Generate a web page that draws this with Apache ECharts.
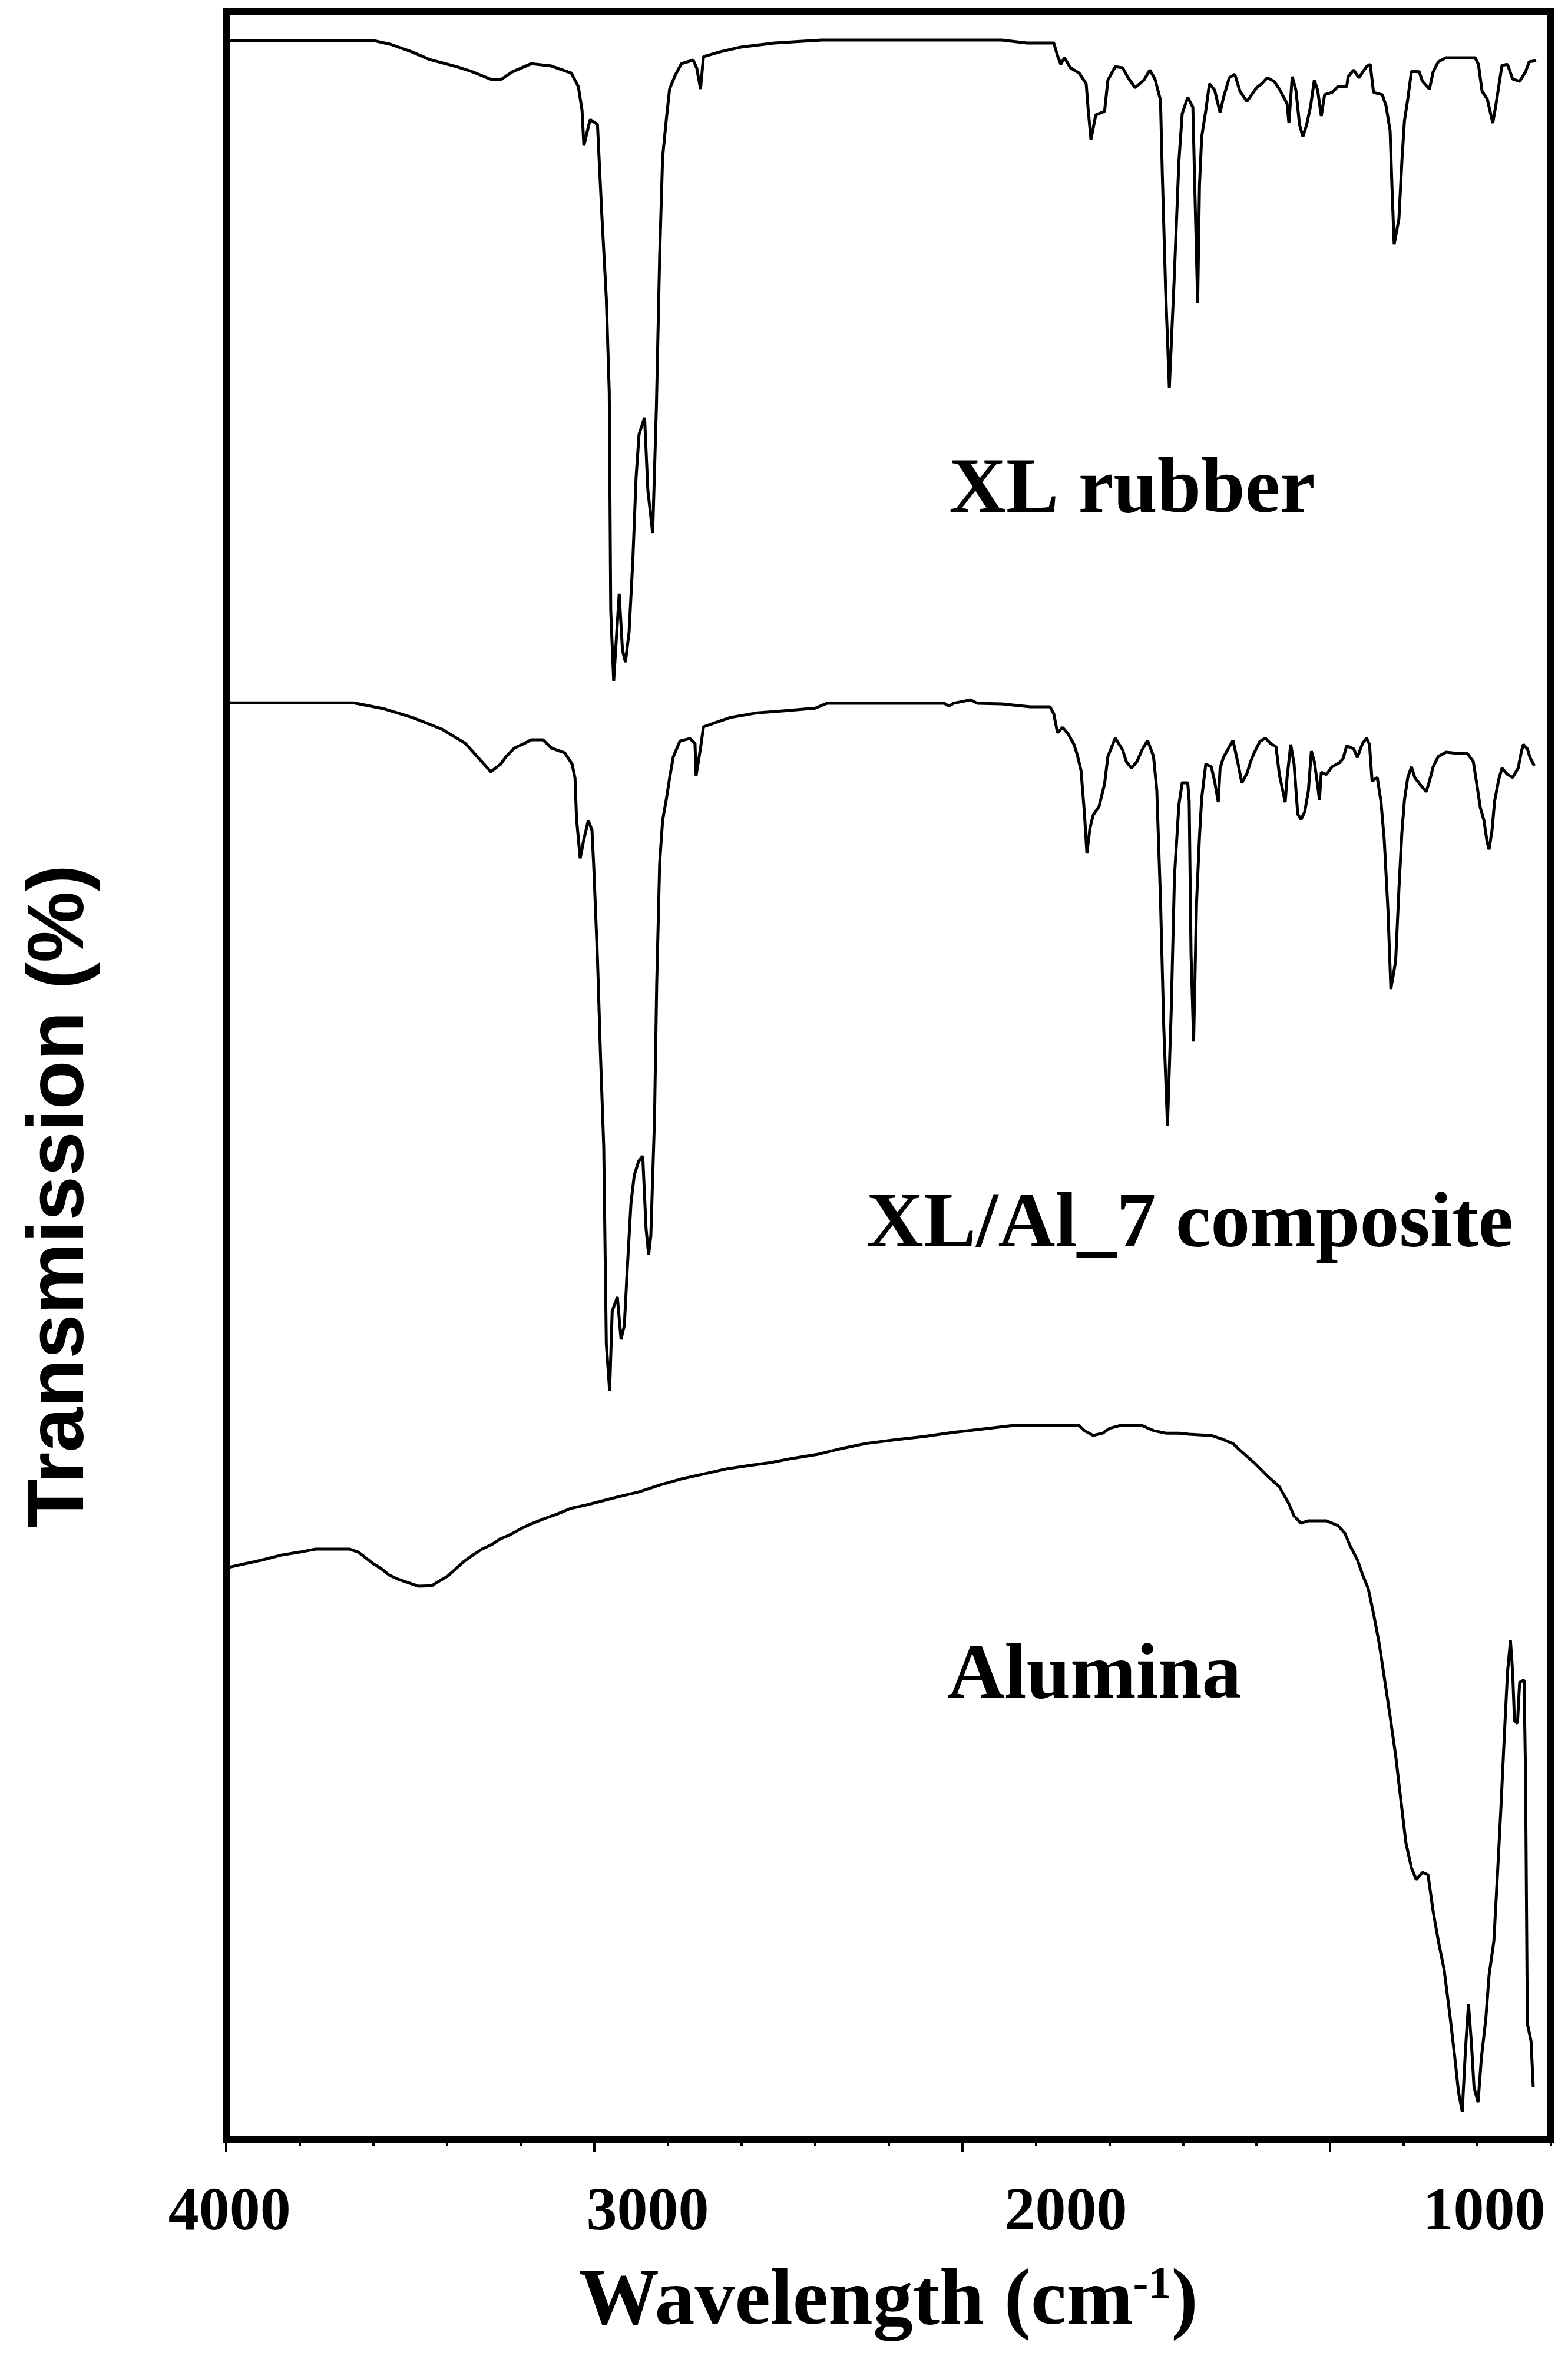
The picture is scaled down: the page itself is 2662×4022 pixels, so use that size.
<!DOCTYPE html>
<html>
<head>
<meta charset="utf-8">
<script src="https://cdn.jsdelivr.net/npm/echarts@6/dist/echarts.min.js"></script>
<style>
html,body{margin:0;padding:0;background:#fff;}
#chart{width:2662px;height:4022px;}
</style>
</head>
<body>
<div id="chart"></div>
<script>
// x: wavenumber (cm-1), y: transmission (arbitrary, offset traces)
const xlRubber = [
[4000,98.64],[3598,98.64],[3553,98.47],[3496,98.12],[3448,97.76],[3374,97.42],[3334,97.2],[3278,96.81],[3254,96.81],[3222,97.18],
[3171,97.56],[3116,97.45],[3062,97.12],[3043,96.48],[3033,95.37],[3028,93.71],[3011,94.93],[2991,94.71],[2988,93.6],[2979,90.39],
[2967,86.54],[2959,82.11],[2955,71.87],[2947,68.55],[2932,72.65],[2923,69.99],[2915,69.43],[2905,70.87],[2895,74.2],[2886,78.15],
[2878,80.15],[2863,80.92],[2854,77.49],[2841,75.5],[2831,81.37],[2822,88.54],[2814,93.16],[2804,94.93],[2795,96.37],[2780,97.01],
[2763,97.56],[2731,97.73],[2721,97.34],[2711,96.37],[2703,97.89],[2657,98.12],[2602,98.34],[2510,98.53],[2382,98.67],[1893,98.67],
[1824,98.53],[1751,98.53],[1741,97.95],[1732,97.53],[1722,97.84],[1706,97.37],[1682,97.12],[1663,96.62],[1658,95.51],[1650,93.99],
[1637,95.15],[1613,95.32],[1604,96.79],[1584,97.42],[1564,97.37],[1549,96.9],[1530,96.43],[1506,96.79],[1490,97.26],[1476,96.84],
[1461,95.85],[1456,92.33],[1447,86.88],[1437,82.31],[1424,87.37],[1411,92.97],[1402,95.21],[1387,95.98],[1373,95.51],[1368,91.86],
[1360,86.3],[1355,91.86],[1349,94.13],[1338,95.35],[1328,96.62],[1314,96.32],[1299,95.26],[1290,95.96],[1274,96.9],[1259,97.06],
[1245,96.26],[1226,95.79],[1200,96.43],[1186,96.62],[1171,96.9],[1152,96.73],[1138,96.37],[1117,95.68],[1112,94.77],[1103,96.95],
[1093,96.32],[1083,94.68],[1074,94.13],[1064,94.68],[1053,95.57],[1043,96.79],[1034,96.32],[1024,95.1],[1015,96.1],[995,96.21],
[979,96.48],[955,96.48],[951,96.95],[936,97.26],[922,96.9],[901,97.42],[891,97.53],[882,96.21],[858,96.1],[848,95.57],
[837,94.41],[832,91.8],[826,89.06],[813,90.28],[805,92.97],[798,94.88],[789,95.9],[779,97.2],[758,97.18],[749,96.73],
[730,96.37],[720,97.18],[706,97.65],[685,97.84],[606,97.84],[597,97.53],[587,96.26],[573,95.9],[563,95.15],[558,94.77],
[549,95.68],[533,97.48],[518,97.53],[504,96.84],[485,96.73],[469,97.18],[459,97.65],[440,97.7]
];
const xlAl7Composite = [
[4000,67.52],[3654,67.52],[3574,67.25],[3494,66.83],[3414,66.28],[3350,65.61],[3310,64.84],[3281,64.28],[3254,64.64],[3240,64.98],
[3217,65.39],[3190,65.61],[3171,65.78],[3139,65.78],[3116,65.39],[3080,65.17],[3060,64.64],[3052,63.98],[3048,62.1],[3038,60.21],
[3028,61.1],[3016,61.99],[3006,61.54],[3001,59.77],[2991,55.48],[2983,51.05],[2974,46.65],[2967,37.37],[2958,35.19],[2951,38.92],
[2937,39.59],[2927,37.6],[2918,38.26],[2910,40.92],[2900,43.99],[2891,45.32],[2879,45.98],[2868,46.21],[2859,42.8],[2852,41.58],
[2846,42.47],[2836,47.98],[2830,54.37],[2822,59.99],[2814,61.99],[2804,62.98],[2795,63.98],[2785,64.98],[2767,65.72],[2740,65.84],
[2726,65.61],[2723,64.09],[2711,65.39],[2703,66.39],[2667,66.61],[2630,66.83],[2556,67.05],[2473,67.16],[2399,67.27],[2367,67.5],
[2049,67.5],[2036,67.36],[2023,67.5],[1977,67.66],[1959,67.5],[1893,67.47],[1815,67.33],[1761,67.33],[1751,67.0],[1741,66.11],
[1727,66.36],[1712,66.06],[1696,65.56],[1687,65.06],[1677,64.34],[1668,62.4],[1661,60.44],[1653,61.6],[1644,62.24],[1628,62.65],
[1613,63.7],[1604,65.0],[1584,65.86],[1564,65.31],[1554,64.76],[1540,64.45],[1525,64.76],[1511,65.31],[1496,65.75],[1480,65.0],
[1471,63.4],[1461,58.28],[1452,52.21],[1442,47.65],[1432,52.96],[1423,59.38],[1411,62.73],[1402,63.76],[1387,63.76],[1383,62.9],
[1378,55.73],[1371,51.6],[1363,58.14],[1355,61.24],[1349,63.04],[1338,64.64],[1323,64.51],[1314,63.84],[1304,62.85],[1299,64.45],
[1290,64.95],[1274,65.45],[1264,65.75],[1250,64.64],[1240,63.76],[1226,64.2],[1216,64.76],[1207,65.14],[1191,65.7],[1176,65.86],
[1162,65.61],[1147,65.45],[1138,64.15],[1122,62.85],[1117,64.01],[1107,65.56],[1098,64.64],[1088,62.29],[1079,62.04],[1069,62.4],
[1059,63.4],[1051,65.25],[1043,64.76],[1034,63.65],[1029,62.96],[1024,64.26],[1010,64.15],[995,64.51],[975,64.7],[965,64.89],
[955,65.5],[936,65.36],[926,64.95],[912,65.61],[901,65.86],[893,65.56],[886,63.84],[872,64.01],[862,62.9],[853,61.1],
[843,57.83],[835,54.07],[822,55.37],[813,58.77],[805,61.43],[798,62.96],[789,64.01],[779,64.51],[770,64.01],[754,63.65],
[739,63.34],[730,63.84],[720,64.51],[706,65.0],[685,65.2],[651,65.14],[627,65.14],[611,64.76],[601,63.65],[592,62.6],
[582,61.99],[574,61.04],[568,60.63],[560,61.54],[553,62.9],[542,63.9],[533,64.45],[518,64.15],[504,64.01],[489,64.45],
[480,65.25],[475,65.56],[464,65.36],[457,64.95],[445,64.56]
];
const alumina = [
[4000,26.85],[3978,26.94],[3928,27.13],[3893,27.27],[3850,27.46],[3800,27.6],[3757,27.74],[3664,27.74],[3641,27.6],[3621,27.33],
[3600,27.05],[3577,26.8],[3557,26.52],[3534,26.33],[3505,26.16],[3478,26.0],[3441,26.02],[3420,26.25],[3398,26.47],[3377,26.8],
[3356,27.13],[3334,27.41],[3305,27.74],[3278,27.96],[3256,28.21],[3227,28.43],[3198,28.71],[3171,28.93],[3134,29.18],[3099,29.4],
[3064,29.65],[3020,29.82],[2977,30.01],[2934,30.2],[2878,30.43],[2820,30.76],[2763,31.04],[2705,31.26],[2641,31.51],[2577,31.67],
[2519,31.81],[2463,32.0],[2391,32.2],[2327,32.47],[2263,32.7],[2177,32.89],[2105,33.03],[2026,33.22],[1956,33.36],[1863,33.55],
[1682,33.55],[1668,33.31],[1644,33.08],[1618,33.19],[1599,33.42],[1570,33.55],[1511,33.55],[1480,33.31],[1447,33.19],[1411,33.19],
[1383,33.14],[1323,33.08],[1295,32.92],[1264,32.7],[1245,32.39],[1207,31.81],[1167,31.12],[1138,30.67],[1112,29.87],[1098,29.29],
[1079,28.96],[1059,29.07],[1010,29.07],[979,28.85],[960,28.49],[946,27.91],[926,27.24],[912,26.55],[896,25.86],[882,24.7],
[867,23.34],[853,21.73],[837,19.88],[822,18.05],[808,15.97],[794,13.93],[779,12.76],[766,12.21],[749,12.54],[734,12.43],
[720,10.71],[706,9.33],[690,7.95],[675,5.9],[661,3.82],[651,2.21],[641,1.3],[632,4.29],[624,6.34],[616,4.51],
[609,2.44],[598,1.74],[589,3.82],[577,5.65],[568,7.72],[555,9.33],[545,12.54],[536,15.53],[526,19.19],[518,21.95],
[510,23.45],[504,21.95],[499,19.66],[491,19.55],[485,21.48],[473,21.59],[469,17.14],[464,5.43],[454,4.62],[448,2.44]
];
const seriesNames = ['XL rubber', 'XL/Al_7 composite', 'Alumina'];
const tickLabelValues = [4000, 3000, 2000, 1000];
const majorTickValues = [4000, 3000, 2000, 1000];

const chart = echarts.init(document.getElementById('chart'), null, {renderer: 'canvas'});
const serif = '"Liberation Serif", "Times New Roman", serif';
const lineSeries = [xlRubber, xlAl7Composite, alumina].map((d, i) => ({
  name: seriesNames[i], type: 'line', data: d, xAxisIndex: 0, yAxisIndex: 0,
  showSymbol: false, symbol: 'none', smooth: false,
  lineStyle: {color: '#000', width: 5}, z: 3
}));

chart.setOption({
  animation: false,
  backgroundColor: '#fff',
  grid: {left: 384, right: 29, top: 20, bottom: 390, show: true, borderColor: '#000', borderWidth: 12, backgroundColor: 'transparent', containLabel: false},
  xAxis: [
    {
      type: 'value', min: 400, max: 4000, inverse: true, interval: 200, position: 'bottom',
      axisLine: {show: false}, splitLine: {show: false},
      axisTick: {show: true, length: 11, lineStyle: {color: '#000', width: 4}},
      axisLabel: {show: false},
      name: '{a|Wavelength (cm}{b|-1}{a|)}',
      nameLocation: 'middle', nameGap: 210,
      nameTextStyle: {
        rich: {
          a: {fontSize: 136, fontWeight: 'bold', fontFamily: serif, color: '#000', lineHeight: 136},
          b: {fontSize: 78, fontWeight: 'bold', fontFamily: serif, color: '#000', lineHeight: 56, verticalAlign: 'top'}
        }
      }
    },
    {
      type: 'value', min: 400, max: 4000, inverse: true, position: 'bottom',
      axisLine: {show: false}, splitLine: {show: false},
      axisTick: {show: true, length: 21, customValues: majorTickValues, lineStyle: {color: '#000', width: 4}},
      axisLabel: {show: false, customValues: majorTickValues}
    },
    {
      type: 'value', min: 840, max: 4008, inverse: true, position: 'bottom',
      axisLine: {show: false}, splitLine: {show: false}, axisTick: {show: false},
      axisLabel: {show: true, customValues: tickLabelValues, formatter: v => String(v), margin: 74, fontSize: 104, fontWeight: 'bold', fontFamily: serif, color: '#000'}
    }
  ],
  yAxis: [{
    type: 'value', min: 0, max: 100,
    axisLine: {show: false}, axisTick: {show: false}, axisLabel: {show: false}, splitLine: {show: false}
  }],
  graphic: [
    {type: 'text', x: 103, y: 2031, rotation: Math.PI / 2,
     style: {text: 'Transmission (%)', fontSize: 136, fontWeight: 'bold', fontFamily: '"Liberation Sans", Arial, sans-serif', fill: '#000', textAlign: 'center', textVerticalAlign: 'middle', align: 'center', verticalAlign: 'middle'}},
    {type: 'text', x: 1922, y: 834,
     style: {text: seriesNames[0], fontSize: 134, fontWeight: 'bold', fontFamily: serif, fill: '#000', textAlign: 'center', textVerticalAlign: 'middle', align: 'center', verticalAlign: 'middle'}},
    {type: 'text', x: 2020, y: 2081,
     style: {text: seriesNames[1], fontSize: 134, fontWeight: 'bold', fontFamily: serif, fill: '#000', textAlign: 'center', textVerticalAlign: 'middle', align: 'center', verticalAlign: 'middle'}},
    {type: 'text', x: 1858, y: 2847,
     style: {text: seriesNames[2], fontSize: 134, fontWeight: 'bold', fontFamily: serif, fill: '#000', textAlign: 'center', textVerticalAlign: 'middle', align: 'center', verticalAlign: 'middle'}}
  ],
  series: lineSeries
});
</script>
</body>
</html>
